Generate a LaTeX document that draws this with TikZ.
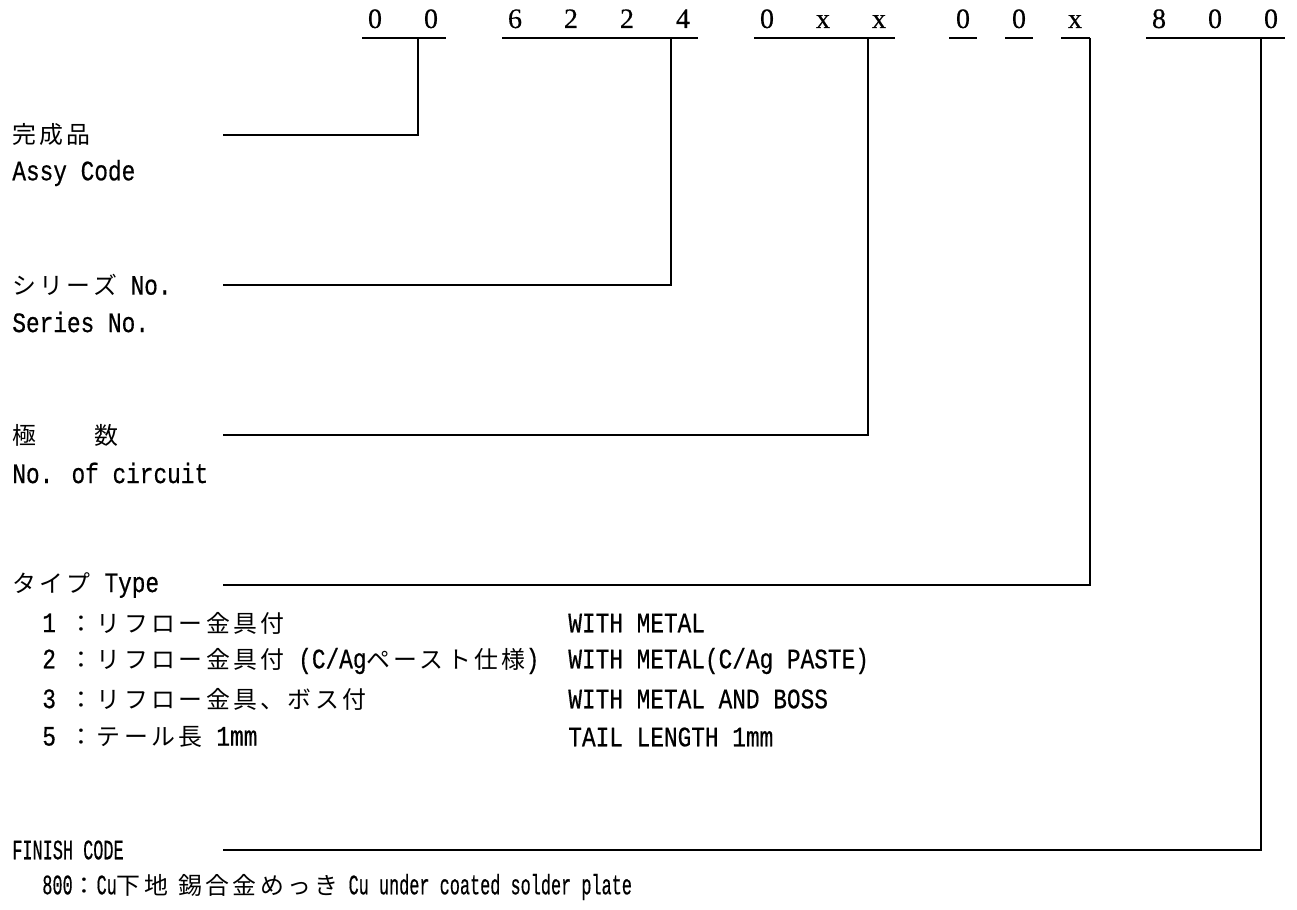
\documentclass[tikz,border=0pt]{standalone}
\usepackage{fontspec}
\usepackage{graphicx}
\setmainfont{Liberation Mono}[FakeBold=0.6]
\newfontfamily\jp{Noto Sans CJK JP}[Scale=0.85, LetterSpace=14.2]
\newfontfamily\dgtfont{Liberation Serif}[FakeBold=0.4]
\newcommand\lt[1]{\scalebox{0.81}[1]{#1}}
\newcommand\nrw[1]{\scalebox{0.6}[1]{#1}}
\usepackage{tikz}

\begin{document}
\begin{tikzpicture}[
  x=0.02cm, y=-0.02cm,
  lbl/.style={anchor=west, inner sep=0pt, font=\fontsize{16}{18}\selectfont},
  dgt/.style={anchor=base, inner sep=0pt, font=\dgtfont\fontsize{16}{18}\selectfont},
  lead/.style={line width=0.9pt},
]
  \useasboundingbox (0,0) rectangle (1297,909);

  % part number digits
  \foreach \x/\d in {375/0, 431/0, 515/6, 571/2, 627/2, 683/4, 767/0, 823/x, 879/x,
                     963/0, 1019/0, 1075/x, 1159/8, 1215/0, 1271/0}
    \node[dgt] (dg\x) at (\x,28) {\d};

  % underlines
  \draw[lead] (362,38) -- (446,38);
  \draw[lead] (502,38) -- (698,38);
  \draw[lead] (754,38) -- (895,38);
  \draw[lead] (949,38) -- (977,38);
  \draw[lead] (1005,38) -- (1033,38);
  \draw[lead] (1061,38) -- (1090,38);
  \draw[lead] (1146,38) -- (1285,38);

  \coordinate (cAssy) at (418,38);
  \coordinate (cSeries) at (671,38);
  \coordinate (cCirc) at (868,38);
  \coordinate (cType) at (1090,38);
  \coordinate (cFinish) at (1261,38);

  % labels
  \node[lbl] (assy) at (12,135) {{\jp 完成品}};
  \node[lbl] (assyEn) at (12,173) {\lt{Assy Code}};
  \node[lbl] (series) at (12,285) {{\jp シリーズ}\lt{ No.}};
  \node[lbl] (seriesEn) at (12,322) {\lt{Series No.}};
  \node[lbl] (circ) at (12,435) {{\jp 極　　数}};
  \node[lbl] (circEn) at (12,473) {\lt{No. of circuit}};
  \node[lbl] (type) at (12,585) {{\jp タイプ}\lt{ Type}};
  \node[lbl] (type1) at (42,623) {\lt{1 }{\jp ：リフロー金具付}};
  \node[lbl] (type2) at (42,661) {\lt{2 }{\jp ：リフロー金具付}\lt{ (C/Ag}{\jp ペースト仕様}\lt{)}};
  \node[lbl] (type3) at (42,699) {\lt{3 }{\jp ：リフロー金具、ボス付}};
  \node[lbl] (type5) at (42,737) {\lt{5 }{\jp ：テール長}\lt{ 1mm}};
  \node[lbl] (type1En) at (568,623) {\lt{WITH METAL}};
  \node[lbl] (type2En) at (568,661) {\lt{WITH METAL(C/Ag PASTE)}};
  \node[lbl] (type3En) at (568,699) {\lt{WITH METAL AND BOSS}};
  \node[lbl] (type5En) at (568,737) {\lt{TAIL LENGTH 1mm}};
  \node[lbl] (finish) at (12,850) {\nrw{FINISH CODE}};
  \node[lbl] (finish800) at (42,887)
    {\nrw{800}{\jp ：}\nrw{Cu}{\jp 下地}\nrw{ }{\jp 錫合金めっき}\nrw{ Cu under coated solder plate}};

  % leader ends
  \coordinate (lAssy) at (223,135);
  \coordinate (lSeries) at (223,285);
  \coordinate (lCirc) at (223,435);
  \coordinate (lType) at (223,585);
  \coordinate (lFinish) at (223,850);

  \draw[lead] (cAssy) |- (lAssy);
  \draw[lead] (cSeries) |- (lSeries);
  \draw[lead] (cCirc) |- (lCirc);
  \draw[lead] (cType) |- (lType);
  \draw[lead] (cFinish) |- (lFinish);
\end{tikzpicture}
\end{document}
